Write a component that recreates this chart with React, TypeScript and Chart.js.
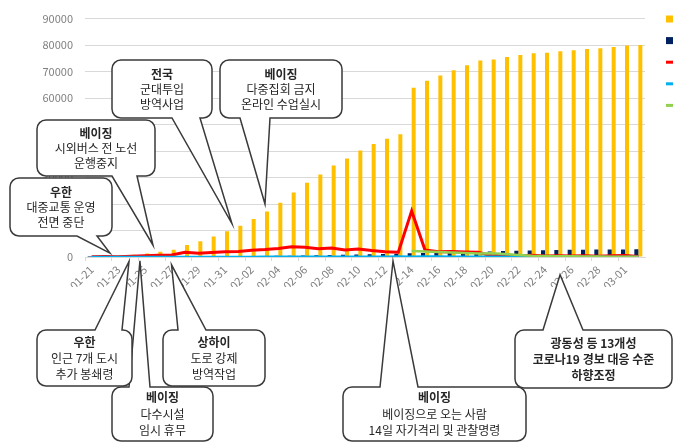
import React, { useEffect, useRef } from 'react';
import { Chart, registerables } from 'chart.js';

Chart.register(...registerables);

const FONT = '"Noto Sans CJK KR", "Noto Sans", sans-serif';

// ---- data ----
const dates = [
  '01-21', '01-22', '01-23', '01-24', '01-25', '01-26', '01-27', '01-28', '01-29', '01-30', '01-31',
  '02-01', '02-02', '02-03', '02-04', '02-05', '02-06', '02-07', '02-08', '02-09', '02-10',
  '02-11', '02-12', '02-13', '02-14', '02-15', '02-16', '02-17', '02-18', '02-19', '02-20',
  '02-21', '02-22', '02-23', '02-24', '02-25', '02-26', '02-27', '02-28', '02-29', '03-01', '03-02',
];

const seriesNames = ['누적 확진자', '누적 사망자', '신규 확진자', '신규 사망자', '신규 의심환자'];

const cumulativeConfirmed = [
  291, 440, 571, 830, 1287, 1975, 2744, 4515, 5974, 7711, 9692,
  11791, 14380, 17205, 20438, 24324, 28018, 31161, 34546, 37198, 40171,
  42638, 44653, 46300, 63851, 66492, 68500, 70548, 72436, 74185, 74576,
  75465, 76288, 76936, 77150, 77658, 78064, 78497, 78824, 79251, 79824, 80026,
];

const cumulativeDeaths = [
  6, 9, 17, 25, 41, 56, 80, 106, 132, 170, 213,
  259, 304, 361, 425, 490, 563, 636, 722, 811, 908,
  1016, 1113, 1259, 1380, 1523, 1665, 1770, 1868, 2004, 2118,
  2236, 2345, 2442, 2592, 2663, 2715, 2744, 2788, 2835, 2870, 2912,
];

const newConfirmed = [
  77, 149, 131, 259, 444, 688, 769, 1771, 1459, 1737, 1981,
  2099, 2589, 2825, 3233, 3887, 3694, 3143, 3399, 2656, 3062,
  2478, 2015, 1820, 17400, 2641, 2009, 2048, 1886, 1749, 394,
  889, 397, 648, 409, 508, 406, 433, 327, 427, 573, 202,
];

const newDeaths = [
  3, 6, 8, 8, 16, 15, 24, 26, 26, 38, 43,
  46, 45, 57, 64, 65, 73, 73, 86, 89, 97,
  108, 97, 146, 121, 143, 142, 105, 98, 136, 114,
  118, 109, 97, 150, 71, 52, 29, 44, 47, 35, 42,
];

const newSuspected = [
  null, null, null, null, null, null, null, null, null, null, null,
  null, null, null, null, null, null, null, null, null, null,
  null, null, null, 2300, 2100, 1900, 1700, 1500, 1350, 1400,
  1100, 750, 500, 380, 300, 250, 200, 150, 130, 140, 120,
];

const yMax = 90000;
const yStep = 10000;

const seriesColors = ['#FFC000', '#002060', '#FF0000', '#00B0F0', '#92D050'];

// ---- annotations (callout bubbles) ----
type Callout = {
  lines: string[];
  boldCount: number;
  box: [number, number, number, number];
  lh: number;
  edge: 'top' | 'bottom';
  base: [number, number];
  tip: [number, number]; // [category index, value]
};

const callouts: Callout[] = [
  { lines: ['우한', '대중교통 운영', '전면 중단'], boldCount: 1, box: [10, 178, 112, 236], lh: 15, edge: 'bottom', base: [77, 97], tip: [1.37, 1480] },
  { lines: ['베이징', '시외버스 전 노선', '운행중지'], boldCount: 1, box: [37, 120, 155, 176], lh: 15, edge: 'bottom', base: [112, 137], tip: [4.6, 4440] },
  { lines: ['전국', '군대투입', '방역사업'], boldCount: 1, box: [112, 60, 212, 118], lh: 15, edge: 'bottom', base: [172, 200], tip: [10.52, 12590] },
  { lines: ['베이징', '다중집회 금지', '온라인 수업실시'], boldCount: 1, box: [220, 60, 342, 118], lh: 15, edge: 'bottom', base: [240, 270], tip: [13.0, 20000] },
  { lines: ['베이징', '다수시설', '임시 휴무'], boldCount: 1, box: [112, 387, 213, 441], lh: 16.5, edge: 'top', base: [129, 150], tip: [3.62, -1480] },
  { lines: ['우한', '인근 7개 도시', '추가 봉쇄령'], boldCount: 1, box: [37, 330, 132, 386], lh: 16, edge: 'top', base: [95, 122], tip: [2.8, -1670] },
  { lines: ['상하이', '도로 강제', '방역작업'], boldCount: 1, box: [163, 330, 265, 386], lh: 16, edge: 'top', base: [178, 206], tip: [5.99, -2960] },
  { lines: ['베이징', '베이징으로 오는 사람', '14일 자가격리 및 관찰명령'], boldCount: 1, box: [343, 387, 526, 441], lh: 16.5, edge: 'top', base: [380, 418], tip: [22.6, -1480] },
  { lines: ['광동성 등 13개성', '코로나19 경보 대응 수준', '하향조정'], boldCount: 3, box: [515, 330, 672, 388], lh: 16, edge: 'top', base: [543, 583], tip: [35.13, -6670] },
];

function bubblePath(ctx: CanvasRenderingContext2D, c: Callout, tx: number, ty: number) {
  const [x1, y1, x2, y2] = c.box;
  const r = 9;
  const [b1, b2] = c.base;
  ctx.beginPath();
  ctx.moveTo(x1 + r, y1);
  if (c.edge === 'top') {
    ctx.lineTo(b1, y1);
    ctx.lineTo(tx, ty);
    ctx.lineTo(b2, y1);
  }
  ctx.lineTo(x2 - r, y1);
  ctx.arcTo(x2, y1, x2, y1 + r, r);
  ctx.lineTo(x2, y2 - r);
  ctx.arcTo(x2, y2, x2 - r, y2, r);
  if (c.edge === 'bottom') {
    ctx.lineTo(b2, y2);
    ctx.lineTo(tx, ty);
    ctx.lineTo(b1, y2);
  }
  ctx.lineTo(x1 + r, y2);
  ctx.arcTo(x1, y2, x1, y2 - r, r);
  ctx.lineTo(x1, y1 + r);
  ctx.arcTo(x1, y1, x1 + r, y1, r);
  ctx.closePath();
}

const calloutPlugin = {
  id: 'callouts',
  afterDraw(chart: any) {
    const ctx: CanvasRenderingContext2D = chart.ctx;
    const xs = chart.scales.x;
    const ys = chart.scales.y;
    ctx.save();
    for (const c of callouts) {
      const tx = xs.getPixelForValue(c.tip[0]);
      const ty = ys.getPixelForValue(c.tip[1]);
      bubblePath(ctx, c, tx, ty);
      ctx.fillStyle = '#ffffff';
      ctx.fill();
      ctx.lineWidth = 1.5;
      ctx.strokeStyle = '#3a3a3a';
      ctx.lineJoin = 'miter';
      ctx.stroke();
      const [x1, y1, x2, y2] = c.box;
      const cx = (x1 + x2) / 2;
      const cy = (y1 + y2) / 2;
      const n = c.lines.length;
      ctx.textAlign = 'center';
      ctx.textBaseline = 'middle';
      ctx.fillStyle = '#262626';
      c.lines.forEach((t, i) => {
        ctx.font = `${i < c.boldCount ? 'bold ' : ''}12px ${FONT}`;
        ctx.fillText(t, cx, cy + (i - (n - 1) / 2) * c.lh);
      });
    }
    ctx.restore();
  },
};

const legendMarkPlugin = {
  id: 'legendMarks',
  afterDraw(chart: any) {
    const ctx: CanvasRenderingContext2D = chart.ctx;
    ctx.save();
    chart.data.datasets.forEach((ds: any, i: number) => {
      const y = 19 + i * 21.6;
      const x = 666;
      ctx.fillStyle = seriesColors[i];
      if (ds.type === 'bar') {
        ctx.fillRect(x, y - 3.5, 10, 7);
      } else {
        ctx.fillRect(x, y - 1.5, 14, 3);
      }
    });
    ctx.restore();
  },
};

export default function App() {
  const ref = useRef<HTMLCanvasElement>(null);
  useEffect(() => {
    if (!ref.current) return;
    const chart = new Chart(ref.current, {
      type: 'bar',
      data: {
        labels: dates,
        datasets: [
          { type: 'bar', label: seriesNames[0], data: cumulativeConfirmed, backgroundColor: seriesColors[0], order: 4 },
          { type: 'bar', label: seriesNames[1], data: cumulativeDeaths, backgroundColor: seriesColors[1], order: 3 },
          { type: 'line', label: seriesNames[2], data: newConfirmed, borderColor: seriesColors[2], backgroundColor: seriesColors[2], borderWidth: 3, pointRadius: 0, tension: 0, order: 2 },
          { type: 'line', label: seriesNames[3], data: newDeaths, borderColor: seriesColors[3], backgroundColor: seriesColors[3], borderWidth: 2.5, pointRadius: 0, tension: 0, order: 1 },
          { type: 'line', label: seriesNames[4], data: newSuspected as any, borderColor: seriesColors[4], backgroundColor: seriesColors[4], borderWidth: 2.5, pointRadius: 0, tension: 0, order: 0 },
        ] as any,
      },
      options: {
        responsive: false,
        animation: false,
        devicePixelRatio: 1,
        datasets: { bar: { categoryPercentage: 0.6, barPercentage: 1 } },
        layout: { padding: { top: 14, right: 28, bottom: 156, left: 0 } },
        plugins: { legend: { display: false }, tooltip: { enabled: false } },
        scales: {
          x: {
            grid: {
              display: true,
              drawOnChartArea: false,
              tickLength: 4,
              color: (c: any) => (c.index % 2 === 0 ? '#d9d9d9' : 'rgba(0,0,0,0)'),
            },
            border: { color: '#d9d9d9' },
            ticks: {
              autoSkip: false,
              minRotation: 45,
              maxRotation: 45,
              padding: 2,
              color: '#808080',
              font: { size: 11, family: FONT },
              callback: (_v: any, i: number) => (i % 2 === 0 ? dates[i] : ''),
            },
            afterFit: (s: any) => { s.height = 30; },
          },
          y: {
            min: 0,
            max: yMax,
            ticks: {
              stepSize: yStep,
              padding: 12,
              color: '#808080',
              font: { size: 11, family: FONT },
              callback: (v: any) => `${v}`,
            },
            grid: { color: '#d9d9d9', drawTicks: false },
            border: { display: false },
            afterFit: (s: any) => { s.width = 85; },
          },
        },
      } as any,
      plugins: [legendMarkPlugin, calloutPlugin],
    });
    return () => chart.destroy();
  }, []);
  return (
    <div style={{ position: 'fixed', left: 0, top: 0, width: 673, height: 443, overflow: 'hidden', background: '#ffffff' }}>
      <canvas ref={ref} width={673} height={443} style={{ display: 'block' }} />
    </div>
  );
}
